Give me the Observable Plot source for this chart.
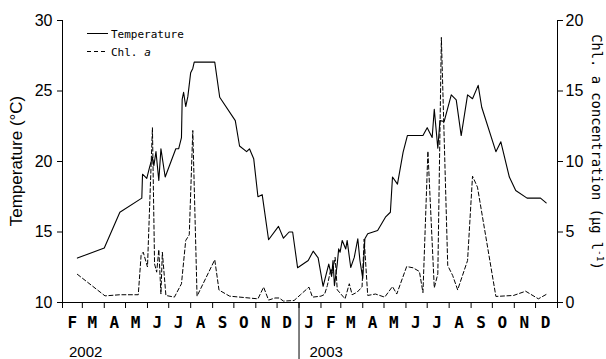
<!DOCTYPE html>
<html>
<head>
<meta charset="utf-8">
<script src="https://cdn.jsdelivr.net/npm/d3@7"></script>
<script src="https://cdn.jsdelivr.net/npm/@observablehq/plot@0.6"></script>
<style>
  html, body { margin: 0; padding: 0; background: #fff; }
  #wrap { position: relative; width: 606px; height: 359px; }
  #overlay { position: absolute; left: 0; top: 0; pointer-events: none; }
</style>
</head>
<body>
<div id="wrap"></div>
<script>
// ---- data ----
const tempDates = ["2002-02-22","2002-04-01","2002-04-23","2002-05-24","2002-05-25","2002-05-31","2002-06-04","2002-06-08","2002-06-10","2002-06-13","2002-06-17","2002-06-20","2002-06-26","2002-07-11","2002-07-15","2002-07-19","2002-07-20","2002-07-22","2002-07-25","2002-07-28","2002-08-01","2002-08-04","2002-08-06","2002-09-04","2002-09-11","2002-10-03","2002-10-09","2002-10-19","2002-10-23","2002-10-29","2002-11-04","2002-11-10","2002-11-19","2002-12-03","2002-12-10","2002-12-18","2002-12-23","2002-12-30","2003-01-14","2003-01-21","2003-01-28","2003-02-04","2003-02-12","2003-02-16","2003-02-18","2003-02-20","2003-02-24","2003-02-26","2003-02-28","2003-03-03","2003-03-08","2003-03-10","2003-03-15","2003-03-20","2003-03-25","2003-03-28","2003-04-01","2003-04-04","2003-04-08","2003-04-22","2003-05-03","2003-05-10","2003-05-13","2003-05-20","2003-05-28","2003-06-03","2003-06-25","2003-07-01","2003-07-08","2003-07-11","2003-07-16","2003-07-19","2003-07-25","2003-08-04","2003-08-11","2003-08-18","2003-08-27","2003-09-03","2003-09-11","2003-09-16","2003-10-06","2003-10-13","2003-10-25","2003-11-03","2003-11-19","2003-12-08","2003-12-16"];
const tempValues = [13.15,13.87,16.4,17.4,19.1,18.8,19.6,20.3,19.7,20.7,18.65,20.9,18.9,20.9,20.9,21.7,24.4,24.9,23.9,24.6,26.3,26.6,27.05,27.05,24.56,22.9,21.1,20.7,20.9,20.2,17.5,17.65,14.45,15.4,14.56,15.0,15.0,12.46,12.98,13.64,13.17,11.15,12.72,11.85,12.98,11.2,12.74,13.8,13.57,14.4,13.8,14.4,12.48,13.2,14.52,12.98,11.7,14.52,14.87,15.1,16.05,16.4,18.9,18.4,20.66,21.84,21.84,22.4,21.7,23.7,20.94,22.9,22.84,24.73,24.37,21.84,24.73,24.45,25.4,23.85,20.7,21.4,18.9,17.94,17.4,17.4,17.07];

const chlDates = ["2002-02-22","2002-04-02","2002-04-23","2002-05-19","2002-05-23","2002-05-26","2002-06-01","2002-06-08","2002-06-11","2002-06-14","2002-06-17","2002-06-20","2002-06-22","2002-06-27","2002-07-09","2002-07-19","2002-07-25","2002-07-30","2002-08-04","2002-08-10","2002-09-04","2002-09-10","2002-09-25","2002-11-04","2002-11-12","2002-11-19","2002-11-28","2002-12-04","2002-12-10","2002-12-25","2003-01-03","2003-01-15","2003-01-20","2003-02-01","2003-02-06","2003-02-10","2003-02-15","2003-02-17","2003-02-21","2003-02-24","2003-03-07","2003-03-13","2003-03-17","2003-03-24","2003-03-31","2003-04-03","2003-04-08","2003-04-19","2003-05-02","2003-05-13","2003-05-19","2003-06-02","2003-06-11","2003-06-20","2003-06-25","2003-07-02","2003-07-11","2003-07-16","2003-07-21","2003-07-30","2003-08-06","2003-08-13","2003-08-27","2003-09-03","2003-09-10","2003-10-06","2003-10-31","2003-11-17","2003-12-05","2003-12-16"];
const chlValues = [2.0,0.47,0.55,0.55,3.35,3.57,2.52,12.4,2.74,2.15,3.75,0.6,3.57,0.5,0.38,1.33,4.4,4.8,12.2,0.45,3.03,0.88,0.45,0.26,1.09,0.17,0.32,0.32,0.1,0.14,0.55,1.09,0.38,0.45,0.57,1.2,2.4,2.08,3.2,0.9,0.26,1.33,0.55,0.73,1.1,4.5,0.5,0.6,0.38,1.13,0.6,2.55,2.46,2.2,0.7,10.73,1.04,2.03,18.8,2.62,1.91,0.9,2.98,8.96,8.18,0.43,0.5,0.8,0.26,0.57];

const leftTicks = [10, 15, 20, 25, 30];
const rightTicks = [0, 5, 10, 15, 20];
const monthLabels = ["J","F","M","A","M","J","J","A","S","O","N","D"];
const yearLabels = ["2002", "2003"];
const yearStarts = ["2002-02-01", "2003-01-01"];
const xStart = "2002-02-01", xEnd = "2004-01-01";
const chlOffset = 10; // chl 0..20 shares the temperature frame 10..30

// ---- build ----
const parse = d3.utcParse("%Y-%m-%d");
const temp = tempDates.map((d, i) => ({date: parse(d), value: tempValues[i]}));
const chl = chlDates.map((d, i) => ({date: parse(d), value: chlValues[i]}));
const monthStarts = d3.utcMonth.range(parse(xStart), d3.utcDay.offset(parse(xEnd), 1));
const monthMids = d3.utcMonth.range(parse(xStart), parse(xEnd)).map(d => d3.utcDay.offset(d, 14));
const dividerDate = parse(yearStarts[1]);

const chart = Plot.plot({
  width: 606,
  height: 359,
  marginLeft: 62,
  marginRight: 49,
  marginTop: 20,
  marginBottom: 57,
  style: {fontFamily: "'Liberation Sans', Arial, sans-serif", fontSize: "16px", background: "#fff", color: "#000", overflow: "visible"},
  x: {type: "utc", domain: [parse(xStart), parse(xEnd)]},
  y: {domain: [10, 30]},
  marks: [
    Plot.axisY(leftTicks, {anchor: "left", tickSize: 5, tickPadding: 5, label: null, strokeWidth: 1}),
    Plot.axisY(rightTicks.map(v => v + chlOffset), {anchor: "right", tickSize: 5, tickPadding: 3, label: null, tickFormat: d => String(d - chlOffset)}),
    Plot.axisX(monthStarts, {tickSize: 6, tickFormat: () => "", label: null}),
    Plot.axisX(monthMids, {tickSize: 0, tickPadding: 14, label: null, fontFamily: "'DejaVu Sans Mono', monospace", fontWeight: "bold", fontSize: 16, tickFormat: d => monthLabels[d.getUTCMonth()]}),
    Plot.ruleX([parse(xStart), parse(xEnd)], {stroke: "#000", strokeWidth: 1}),
    Plot.ruleY([10], {stroke: "#000", strokeWidth: 1}),
    Plot.ruleX([dividerDate], {y1: 10, y2: 5.9, stroke: "#000", strokeWidth: 1}),
    Plot.line(chl, {x: "date", y: d => d.value + chlOffset, stroke: "#000", strokeWidth: 1, strokeDasharray: "4,2.5"}),
    Plot.line(temp, {x: "date", y: "value", stroke: "#000", strokeWidth: 1.1})
  ]
});

const wrap = document.getElementById("wrap");
wrap.appendChild(chart);

// overlay: titles, legend, year labels
const xs = chart.scale("x");
const ns = "http://www.w3.org/2000/svg";
const ov = document.createElementNS(ns, "svg");
ov.setAttribute("id", "overlay");
ov.setAttribute("width", 606);
ov.setAttribute("height", 359);
ov.innerHTML = `
  <text transform="translate(22,161) rotate(-90)" text-anchor="middle" font-family="'Liberation Sans', Arial, sans-serif" font-size="17">Temperature (°C)</text>
  <text transform="translate(591.5,152) rotate(90)" text-anchor="middle" font-family="'DejaVu Sans Mono', monospace" font-size="13.8">Chl.  a concentration (μg l<tspan font-size="9.5" dy="-5">-1</tspan><tspan dy="5">)</tspan></text>
  <line x1="87" x2="108" y1="33.5" y2="33.5" stroke="#000" stroke-width="1"/>
  <text x="111" y="37.5" font-family="'DejaVu Sans Mono', monospace" font-size="11">Temperature</text>
  <line x1="87" x2="108" y1="51.5" y2="51.5" stroke="#000" stroke-width="1" stroke-dasharray="4,3"/>
  <text x="111" y="55.5" font-family="'DejaVu Sans Mono', monospace" font-size="11">Chl. <tspan font-style="italic">a</tspan></text>
`;
yearLabels.forEach((label, i) => {
  const t = document.createElementNS(ns, "text");
  t.setAttribute("x", xs.apply(parse(yearStarts[i])) + (i === 0 ? 7 : 11));
  t.setAttribute("y", 356.5);
  t.setAttribute("font-family", "'Liberation Sans', Arial, sans-serif");
  t.setAttribute("font-size", "15");
  t.textContent = label;
  ov.appendChild(t);
});
wrap.appendChild(ov);
</script>
</body>
</html>
